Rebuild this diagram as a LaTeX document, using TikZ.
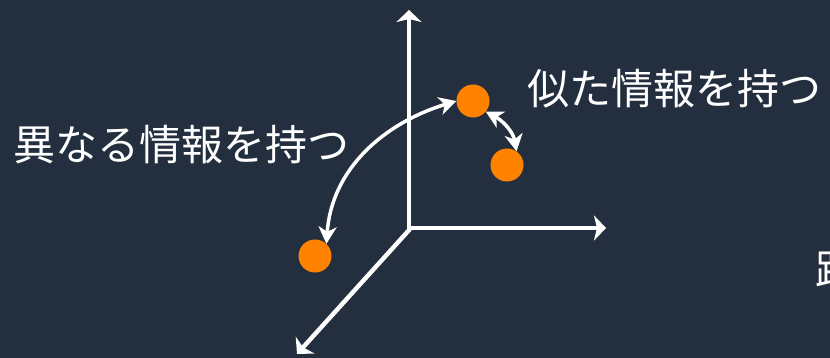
\documentclass[tikz,border=0pt]{standalone}
\usepackage{fontspec}
\newfontfamily\cjk{Noto Sans CJK JP}
\usetikzlibrary{arrows.meta}
\definecolor{bgnavy}{HTML}{232F3E}
\definecolor{dotorange}{RGB}{255,131,0}
\begin{document}
\begin{tikzpicture}[x=1pt,y=1pt,
  axis/.style={draw=white,line width=4.4pt,-{Stealth[length=12pt,width=25pt,inset=3pt]}},
  link/.style={draw=white,line width=3.5pt,>={Stealth[length=17pt,width=18pt,inset=5pt]},<->},
  dot/.style={circle,fill=dotorange,minimum size=33pt,inner sep=0pt},
  lbl/.style={text=white,inner sep=0pt,font=\cjk\fontsize{42}{42}\selectfont}]
\fill[bgnavy] (0,0) rectangle (830,-358);
\useasboundingbox (0,0) rectangle (830,-358);
% axes
\coordinate (o) at (409,-228);
\coordinate (ytip) at (409,-10);
\coordinate (xtip) at (606,-228);
\coordinate (ztip) at (297,-354);
\draw[axis] ([yshift=-2pt]o) -- (ytip);
\draw[axis] ([xshift=-2pt]o) -- (xtip);
\draw[axis] ([xshift=1pt,yshift=-1pt]o) -- (ztip);
% dots
\node[dot] (d1) at (473,-101) {};
\node[dot] (d2) at (507,-165) {};
\node[dot] (d3) at (315,-256) {};
% connectors
\draw[link] (d3.47) to[out=86,in=-163] (d1.180);
\draw[link] (d1.-40) to[out=-28,in=100] (d2.55);
% labels
\node[lbl,anchor=west] (t1) at (13,-145) {異なる情報を持つ};
\node[lbl,anchor=west] (t2) at (527,-89) {似た情報を持つ};
\node[lbl,anchor=west] (t3) at (815,-270) {距};
\end{tikzpicture}
\end{document}
